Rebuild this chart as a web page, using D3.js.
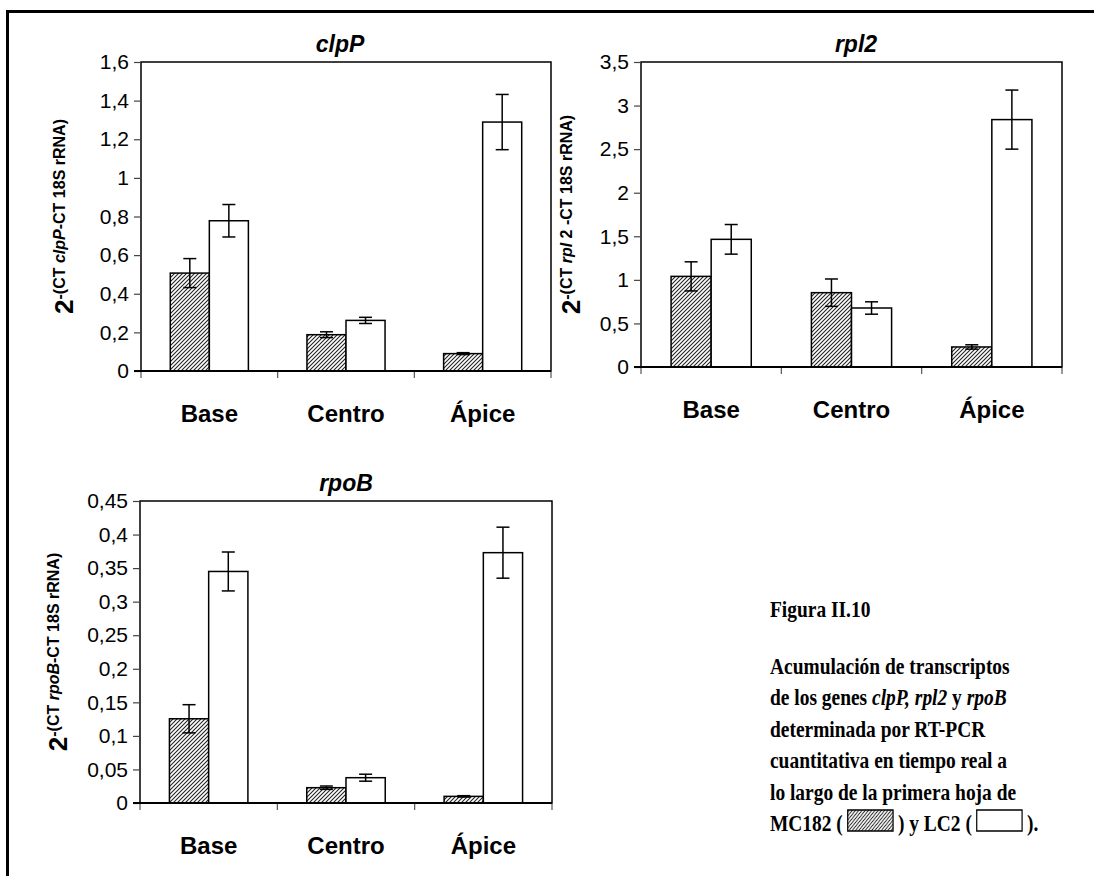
<!DOCTYPE html>
<html>
<head>
<meta charset="utf-8">
<script src="https://cdn.jsdelivr.net/npm/d3@7"></script>
<style>
body { margin: 0; background: #fff; }
svg { display: block; }
text { font-family: 'Liberation Sans', Arial, sans-serif; fill: #000; }
.cap { font-family: 'Liberation Serif', 'Times New Roman', serif; font-weight: bold; font-size: 24px; }
</style>
</head>
<body>
<div id="chart"></div>
<script>

// data
const categories = ['Base', 'Centro', 'Ápice']
const series = ['MC182', 'LC2']

const clpP_MC182 = [0.507, 0.188, 0.090]
const clpP_MC182_err = [0.075, 0.015, 0.005]
const clpP_LC2 = [0.778, 0.262, 1.289]
const clpP_LC2_err = [0.084, 0.016, 0.143]
const clpP_ticks = [0, 0.2, 0.4, 0.6, 0.8, 1, 1.2, 1.4, 1.6]

const rpl2_MC182 = [1.04, 0.853, 0.23]
const rpl2_MC182_err = [0.167, 0.157, 0.025]
const rpl2_LC2 = [1.465, 0.677, 2.839]
const rpl2_LC2_err = [0.17, 0.071, 0.339]
const rpl2_ticks = [0, 0.5, 1, 1.5, 2, 2.5, 3, 3.5]

const rpoB_MC182 = [0.1255, 0.0228, 0.0099]
const rpoB_MC182_err = [0.021, 0.0025, 0.001]
const rpoB_LC2 = [0.345, 0.0377, 0.373]
const rpoB_LC2_err = [0.029, 0.0052, 0.038]
const rpoB_ticks = [0, 0.05, 0.1, 0.15, 0.2, 0.25, 0.3, 0.35, 0.4, 0.45]

const width = 1094
const height = 876

const svg = d3.select('#chart')
    .append('svg')
    .attr('width', width)
    .attr('height', height)

const defs = svg.append('defs')

const hatch = defs.append('pattern')
    .attr('id', 'hatch')
    .attr('patternUnits', 'userSpaceOnUse')
    .attr('width', 4)
    .attr('height', 4)
hatch.append('rect').attr('width', 4).attr('height', 4).attr('fill', '#fff')
hatch.append('path')
    .attr('d', 'M-1,1 l2,-2 M0,4 l4,-4 M3,5 l2,-2')
    .attr('stroke', '#222')
    .attr('stroke-width', 1.1)

// outer frame (cut off on the right and bottom in the source)
svg.append('rect')
    .attr('x', 7.5)
    .attr('y', 11.5)
    .attr('width', 1200)
    .attr('height', 1000)
    .attr('fill', 'none')
    .attr('stroke', '#000')
    .attr('stroke-width', 3)

const fmt = (v) => String(+v.toFixed(2)).replace('.', ',')

const drawChart = (cfg) => {

    const { left, right, top, bottom } = cfg.box
    const g = svg.append('g')

    const x = d3.scaleBand()
        .domain(categories)
        .range([left, right])

    const bw = x.step() / 3.5

    const xs = d3.scaleBand()
        .domain(series)
        .range([0, 2 * bw])

    const y = d3.scaleLinear()
        .domain([0, d3.max(cfg.ticks)])
        .range([bottom, top])

    // plot frame
    g.append('rect')
        .attr('x', left)
        .attr('y', top)
        .attr('width', right - left)
        .attr('height', bottom - top)
        .attr('fill', '#fff')
        .attr('stroke', '#000')
        .attr('stroke-width', 1.5)

    // y axis
    const yAxis = g.append('g')
        .attr('transform', `translate(${left},0)`)
        .call(d3.axisLeft(y).tickValues(cfg.ticks).tickSize(7).tickPadding(5).tickFormat(fmt))
    yAxis.select('.domain').remove()
    yAxis.selectAll('.tick line').attr('stroke', '#444').attr('stroke-width', 1.2)
    yAxis.selectAll('.tick text')
        .style('font-size', '21px')
        .style('font-family', "'Liberation Sans', Arial, sans-serif")
        .attr('fill', '#000')

    // category boundary ticks
    g.selectAll('.cat-tick')
        .data(d3.range(categories.length + 1))
        .join('line')
        .attr('x1', (i) => left + i * x.step())
        .attr('x2', (i) => left + i * x.step())
        .attr('y1', bottom)
        .attr('y2', bottom + 7)
        .attr('stroke', '#555')
        .attr('stroke-width', 1.2)

    // category labels
    const xAxis = g.append('g')
        .attr('transform', `translate(0,${bottom})`)
        .call(d3.axisBottom(x).tickSize(0).tickPadding(34))
    xAxis.select('.domain').remove()
    xAxis.selectAll('.tick text')
        .style('font-size', '24px')
        .style('font-weight', 'bold')
        .style('font-family', "'Liberation Sans', Arial, sans-serif")
        .attr('fill', '#000')

    const rows = categories.flatMap((c, i) => [
        { cat: c, s: 'MC182', v: cfg.mc[i], e: cfg.mcErr[i] },
        { cat: c, s: 'LC2', v: cfg.lc[i], e: cfg.lcErr[i] }
    ])

    const barX = (d) => x(d.cat) + (x.bandwidth() - 2 * bw) / 2 + xs(d.s)

    g.selectAll('.bar')
        .data(rows)
        .join('rect')
        .attr('class', 'bar')
        .attr('x', barX)
        .attr('y', (d) => y(d.v))
        .attr('width', xs.bandwidth())
        .attr('height', (d) => y(0) - y(d.v))
        .attr('fill', (d) => d.s == 'MC182' ? 'url(#hatch)' : '#fff')
        .attr('stroke', '#000')
        .attr('stroke-width', 1.5)

    // error bars
    const err = g.selectAll('.err')
        .data(rows)
        .join('g')
        .attr('class', 'err')
        .attr('transform', (d) => `translate(${barX(d) + xs.bandwidth() / 2},0)`)
        .attr('stroke', '#000')
        .attr('stroke-width', 1.5)
    err.append('line')
        .attr('y1', (d) => y(d.v - d.e))
        .attr('y2', (d) => y(d.v + d.e))
    err.append('line')
        .attr('x1', -6.5).attr('x2', 6.5)
        .attr('y1', (d) => y(d.v + d.e))
        .attr('y2', (d) => y(d.v + d.e))
    err.append('line')
        .attr('x1', -6.5).attr('x2', 6.5)
        .attr('y1', (d) => y(d.v - d.e))
        .attr('y2', (d) => y(d.v - d.e))

    // bottom axis line
    g.append('line')
        .attr('x1', left - 7)
        .attr('x2', right)
        .attr('y1', bottom)
        .attr('y2', bottom)
        .attr('stroke', '#000')
        .attr('stroke-width', 2)

    // title
    g.append('text')
        .attr('x', cfg.titleX)
        .attr('y', top - 10)
        .attr('text-anchor', 'middle')
        .style('font-size', '23px')
        .style('font-weight', 'bold')
        .style('font-style', 'italic')
        .text(cfg.gene)

    // y title: 2^-(CT gene - CT 18S rRNA)
    const yt = g.append('text')
        .attr('transform', `translate(${cfg.yTitleX},${(top + bottom) / 2}) rotate(-90)`)
        .attr('text-anchor', 'middle')
        .style('font-weight', 'bold')
    yt.append('tspan').style('font-size', '26px').text('2')
    cfg.yTitle.forEach((p, i) => {
        const t = yt.append('tspan')
            .style('font-size', '16px')
            .style('font-style', p.italic ? 'italic' : 'normal')
            .text(p.t)
        if (i == 0) t.attr('dy', -8)
    })
}

drawChart({
    gene: 'clpP',
    mc: clpP_MC182, mcErr: clpP_MC182_err,
    lc: clpP_LC2, lcErr: clpP_LC2_err,
    ticks: clpP_ticks,
    box: { left: 141, right: 551, top: 62, bottom: 371 },
    titleX: 340,
    yTitleX: 73,
    yTitle: [{ t: '-(CT ' }, { t: 'clpP', italic: true }, { t: '-CT 18S rRNA)' }]
})

drawChart({
    gene: 'rpl2',
    mc: rpl2_MC182, mcErr: rpl2_MC182_err,
    lc: rpl2_LC2, lcErr: rpl2_LC2_err,
    ticks: rpl2_ticks,
    box: { left: 641, right: 1062, top: 62, bottom: 367 },
    titleX: 856,
    yTitleX: 580,
    yTitle: [{ t: '-(CT ' }, { t: 'rpl', italic: true }, { t: ' 2 -CT 18S rRNA)' }]
})

drawChart({
    gene: 'rpoB',
    mc: rpoB_MC182, mcErr: rpoB_MC182_err,
    lc: rpoB_LC2, lcErr: rpoB_LC2_err,
    ticks: rpoB_ticks,
    box: { left: 140, right: 552, top: 501, bottom: 803 },
    titleX: 346,
    yTitleX: 67,
    yTitle: [{ t: '-(CT ' }, { t: 'rpoB', italic: true }, { t: '-CT 18S rRNA)' }]
})

// caption (condensed, like the source)
const cap = svg.append('g')
    .attr('transform', 'translate(770,0) scale(0.81,1)')

cap.append('text').attr('class', 'cap').attr('x', 0).attr('y', 617).text('Figura II.10')

const capLines = [
    [{ t: 'Acumulación de transcriptos' }],
    [{ t: 'de los genes ' }, { t: 'clpP, rpl2', i: true }, { t: ' y ' }, { t: 'rpoB', i: true }],
    [{ t: 'determinada por RT-PCR' }],
    [{ t: 'cuantitativa en tiempo real a' }],
    [{ t: 'lo largo de la primera hoja de' }]
]
const lineY = (i) => 674 + i * 31.4

capLines.forEach((parts, i) => {
    const t = cap.append('text').attr('class', 'cap').attr('x', 0).attr('y', lineY(i))
    parts.forEach((p) => t.append('tspan').style('font-style', p.i ? 'italic' : 'normal').text(p.t))
})

// last line with the two legend swatches
const lastY = lineY(5)
let cx = 0
const putText = (s) => {
    const t = cap.append('text').attr('class', 'cap').attr('x', cx).attr('y', lastY).text(s)
    cx += t.node().getComputedTextLength()
}
const putSwatch = (fill) => {
    cap.append('rect')
        .attr('x', cx + 6)
        .attr('y', lastY - 21)
        .attr('width', 56)
        .attr('height', 21)
        .attr('fill', fill)
        .attr('stroke', '#000')
        .attr('stroke-width', 1.5)
    cx += 68
}
putText('MC182 (')
putSwatch('url(#hatch)')
putText(') y LC2 (')
putSwatch('#fff')
putText(').')

</script>
</body>
</html>
